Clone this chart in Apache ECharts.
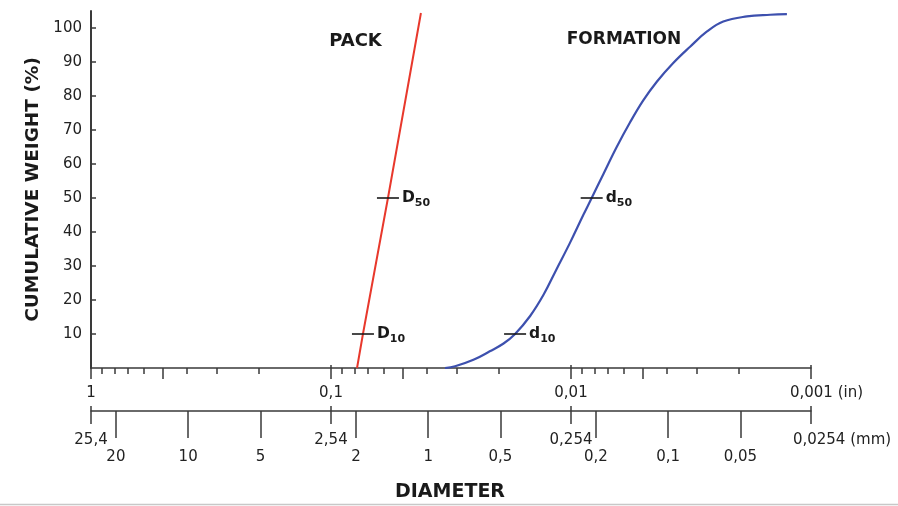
<!DOCTYPE html>
<html><head><meta charset="utf-8">
<script src="https://cdn.jsdelivr.net/npm/echarts@6/dist/echarts.min.js"></script>
<style>html,body{margin:0;padding:0;background:#fff}#c{width:898px;height:506px}</style>
</head><body><div id="c"></div>
<script>
// ---- data ----
const yTicks = [10, 20, 30, 40, 50, 60, 70, 80, 90, 100];
const inchMajor = [1, 0.1, 0.01, 0.001];
const inchMajorLabels = ['1', '0,1', '0,01', '0,001'];
const inchHalf = [0.5, 0.05, 0.005];
const inchMinor = [0.9, 0.8, 0.7, 0.6, 0.4, 0.3, 0.2,
                   0.09, 0.08, 0.07, 0.06, 0.04, 0.03, 0.02,
                   0.009, 0.008, 0.007, 0.006, 0.004, 0.003, 0.002];
const mmMajor = [25.4, 2.54, 0.254, 0.0254];
const mmMajorLabels = ['25,4', '2,54', '0,254', '0,0254'];
const mmMinor = [20, 10, 5, 2, 1, 0.5, 0.2, 0.1, 0.05];
const mmMinorLabels = ['20', '10', '5', '2', '1', '0,5', '0,2', '0,1', '0,05'];

const packX = [0.0779, 0.0736, 0.0579, 0.0422];
const packY = [0, 10, 50, 104.4];

const formationX = [0.0335, 0.0304, 0.0255, 0.0218, 0.0191, 0.0171, 0.0148, 0.0130, 0.0115, 0.0101,
                    0.0089, 0.0082, 0.0073, 0.00645, 0.00568, 0.0050, 0.00439, 0.00375, 0.00319,
                    0.00272, 0.00232, 0.00185, 0.00148, 0.00126];
const formationY = [0, 0.5, 2.4, 4.9, 7.2, 10, 15.3, 21.6, 29, 36.8,
                    44.9, 50, 57.3, 65, 72.2, 78.7, 84.2, 89.7, 94.5,
                    98.9, 101.9, 103.4, 103.9, 104.1];

const markerX = [0.0736, 0.0579, 0.0171, 0.0082];
const markerY = [10, 50, 10, 50];
const markerMain = ['D', 'D', 'd', 'd'];
const markerSub = ['10', '50', '10', '50'];

// ---- helpers ----
const FONT = 'DejaVu Sans';
const TXT = '#222222';
const AX = '#3a3a3a';
function pick(values, labels, v) {
  for (let i = 0; i < values.length; i++) {
    if (Math.abs(Math.log10(values[i] / v)) < 1e-6) return labels[i];
  }
  return '';
}
const zip = (xs, ys) => xs.map((x, i) => [x, ys[i]]);

const inchBase = {
  type: 'log', logBase: 10, min: 0.001, max: 1, inverse: true, position: 'bottom', gridIndex: 0,
  splitLine: { show: false }, minorTick: { show: false }, minorSplitLine: { show: false }
};
const mmBase = {
  type: 'log', logBase: 10, min: 0.0254, max: 25.4, inverse: true, position: 'bottom', gridIndex: 0,
  splitLine: { show: false }, minorTick: { show: false }, minorSplitLine: { show: false }
};
const noLine = { show: false, onZero: false };
const noLabel = { show: false };

const xAxes = [
  Object.assign({}, inchBase, {
    offset: 0,
    axisLine: { show: true, onZero: false, lineStyle: { color: AX, width: 1.5 } },
    axisTick: { show: true, inside: false, length: 6, customValues: inchMinor, lineStyle: { color: AX, width: 1.5 } },
    axisLabel: {
      show: true, customValues: inchMajor, margin: 18, fontFamily: FONT, fontSize: 15, color: TXT,
      formatter: function (v) {
        const s = pick(inchMajor, inchMajorLabels, v);
        if (s === '0,001') return '{pad|}{t|0,001 (in)}';
        return '{t|' + s + '}';
      },
      rich: { t: { fontFamily: FONT, fontSize: 15, color: TXT }, pad: { width: 31 } }
    }
  }),
  Object.assign({}, inchBase, {
    offset: 0, axisLine: noLine, axisLabel: noLabel,
    axisTick: { show: true, length: 11, customValues: inchHalf, lineStyle: { color: AX, width: 1.5 } }
  }),
  Object.assign({}, inchBase, {
    offset: -3, axisLine: noLine, axisLabel: noLabel,
    axisTick: { show: true, length: 14, customValues: inchMajor, lineStyle: { color: AX, width: 1.5 } }
  }),
  Object.assign({}, mmBase, {
    offset: 43,
    axisLine: { show: true, onZero: false, lineStyle: { color: AX, width: 1.5 } },
    axisTick: { show: false },
    axisLabel: {
      show: true, customValues: mmMajor, margin: 22, fontFamily: FONT, fontSize: 15, color: TXT,
      formatter: function (v) {
        const s = pick(mmMajor, mmMajorLabels, v);
        if (s === '0,0254') return '{pad|}{t|0,0254 (mm)}';
        return '{t|' + s + '}';
      },
      rich: { t: { fontFamily: FONT, fontSize: 15, color: TXT }, pad: { width: 62 } }
    }
  }),
  Object.assign({}, mmBase, {
    offset: 38, axisLine: noLine, axisLabel: noLabel,
    axisTick: { show: true, length: 18, customValues: mmMajor, lineStyle: { color: AX, width: 1.5 } }
  }),
  Object.assign({}, mmBase, {
    offset: 43, axisLine: noLine,
    axisTick: { show: true, length: 27, customValues: mmMinor, lineStyle: { color: AX, width: 1.5 } },
    axisLabel: {
      show: true, customValues: mmMinor, margin: 39, fontFamily: FONT, fontSize: 15, color: TXT,
      formatter: function (v) { return pick(mmMinor, mmMinorLabels, v); }
    }
  })
];

const markerData = markerX.map((x, i) => ({
  value: [x, markerY[i]],
  label: { formatter: '{m|' + markerMain[i] + '}{s|' + markerSub[i] + '}' }
}));

const option = {
  animation: false,
  backgroundColor: '#fff',
  grid: { left: 91, right: 87, top: 11, bottom: 138, containLabel: false, outerBoundsMode: 'none' },
  xAxis: xAxes,
  yAxis: {
    type: 'value', min: 0, max: 105, position: 'left',
    name: 'CUMULATIVE WEIGHT (%)', nameLocation: 'middle', nameGap: 48, nameRotate: 90,
    nameTextStyle: { fontFamily: FONT, fontSize: 18.5, fontWeight: 'bold', color: '#1a1a1a' },
    axisLine: { show: true, onZero: false, lineStyle: { color: AX, width: 2 } },
    axisTick: { show: true, inside: true, length: 5, customValues: yTicks, lineStyle: { color: AX, width: 1.5 } },
    axisLabel: { show: true, customValues: yTicks, margin: 9, fontFamily: FONT, fontSize: 15, color: TXT },
    splitLine: { show: false }
  },
  series: [
    {
      name: 'PACK', type: 'line', xAxisIndex: 0, yAxisIndex: 0,
      data: zip(packX, packY), showSymbol: false, symbol: 'none', z: 3,
      lineStyle: { color: '#e8382c', width: 2 }
    },
    {
      name: 'FORMATION', type: 'line', xAxisIndex: 0, yAxisIndex: 0,
      data: zip(formationX, formationY), showSymbol: false, symbol: 'none',
      smooth: 0.4, z: 3,
      lineStyle: { color: '#3d50ae', width: 2.2 }
    },
    {
      name: 'markers', type: 'scatter', xAxisIndex: 0, yAxisIndex: 0, z: 4,
      symbol: 'rect', symbolSize: [22, 1.6],
      itemStyle: { color: '#1a1a1a', opacity: 1 },
      data: markerData,
      label: {
        show: true, position: 'right', distance: 3, color: '#1a1a1a', opacity: 1,
        rich: {
          m: { fontFamily: FONT, fontSize: 15.5, fontWeight: 'bold', color: '#1a1a1a', lineHeight: 22, verticalAlign: 'middle' },
          s: { fontFamily: FONT, fontSize: 11, fontWeight: 'bold', color: '#1a1a1a', lineHeight: 12, verticalAlign: 'bottom' }
        }
      }
    }
  ],
  graphic: [
    { type: 'text', x: 355.5, y: 41, style: { text: 'PACK', font: 'bold 18px "DejaVu Sans"', fill: '#1a1a1a', textAlign: 'center', textVerticalAlign: 'middle' } },
    { type: 'text', x: 624, y: 39.5, style: { text: 'FORMATION', font: 'bold 17px "DejaVu Sans"', fill: '#1a1a1a', textAlign: 'center', textVerticalAlign: 'middle' } },
    { type: 'text', x: 450, y: 492, style: { text: 'DIAMETER', font: 'bold 19px "DejaVu Sans"', fill: '#1a1a1a', textAlign: 'center', textVerticalAlign: 'middle' } },
    { type: 'line', shape: { x1: 0, y1: 504.5, x2: 898, y2: 504.5 }, style: { stroke: '#c8c8c8', lineWidth: 1.5 } }
  ]
};

const chart = echarts.init(document.getElementById('c'), null, { renderer: 'canvas' });
chart.setOption(option);
</script>
</body></html>
